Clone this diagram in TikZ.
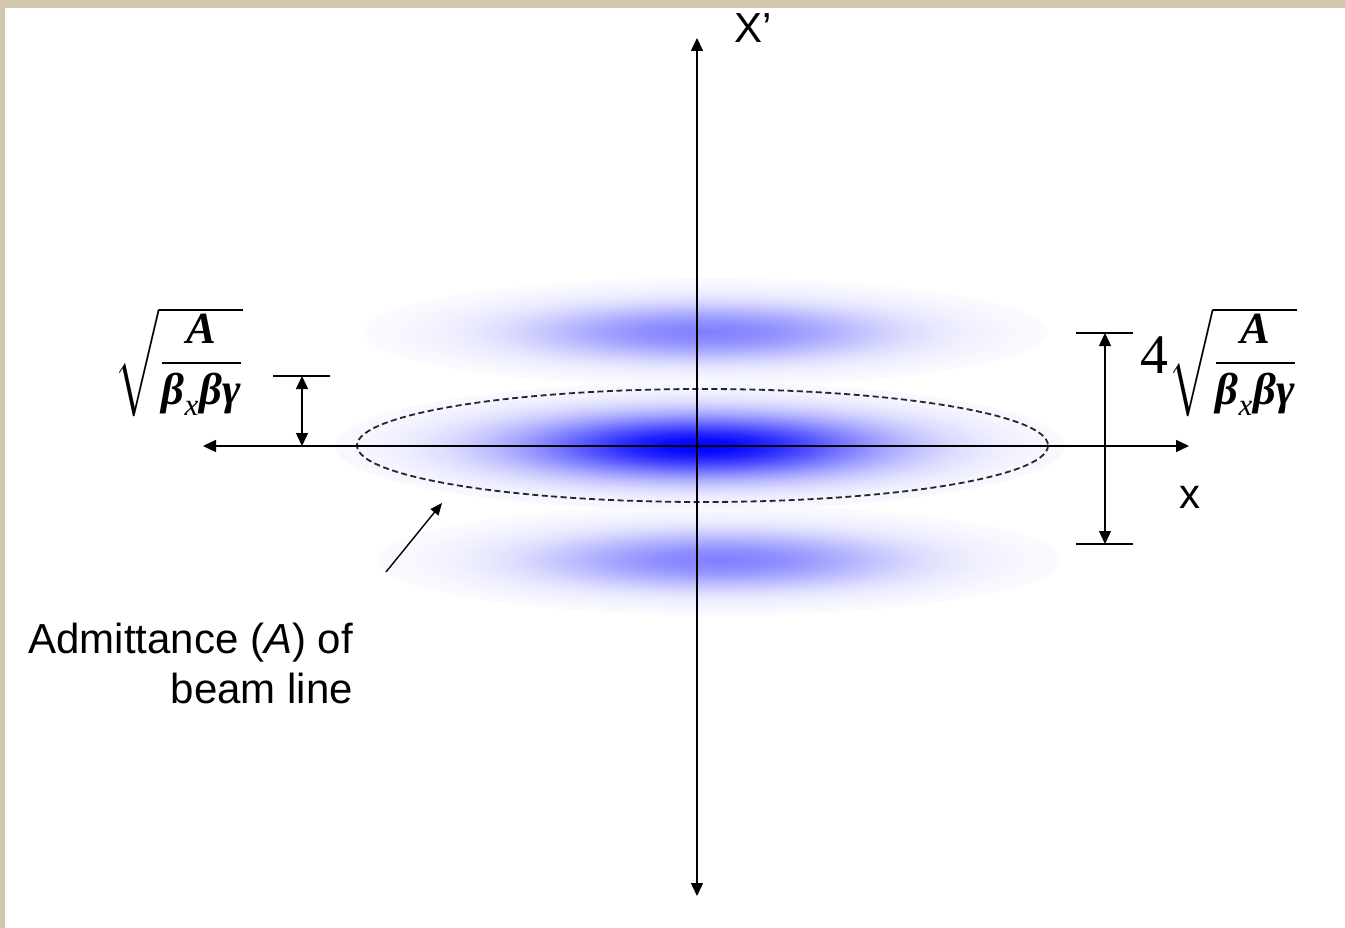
\documentclass[tikz,border=0pt]{standalone}
\usepackage{amsmath}
\usepackage{fontspec}
\setmainfont{Liberation Sans}
\newfontfamily\tnr{Liberation Serif}
\usetikzlibrary{arrows.meta}
\definecolor{framebeige}{RGB}{210,199,170}
\newcommand{\bfit}[1]{\text{\tnr\bfseries\itshape #1}}
\newcommand{\admfrac}{\sqrt{\dfrac{\bfit{A}}{\bfit{β}_{\text{\tnr\itshape x}}\bfit{βγ}}}}
\pgfdeclareradialshading{blobmain}{\pgfpoint{0bp}{0bp}}{color(0bp)=(blue); color(2.5bp)=(blue!96); color(5bp)=(blue!85); color(7.5bp)=(blue!69); color(10bp)=(blue!52); color(12.5bp)=(blue!36); color(15bp)=(blue!23); color(17.5bp)=(blue!13.5); color(20bp)=(blue!7.5); color(22.5bp)=(blue!4); color(25bp)=(blue!2.5); color(50bp)=(blue!2.5)}
\pgfdeclareradialshading{blobside}{\pgfpoint{0bp}{0bp}}{color(0bp)=(blue!50); color(2.5bp)=(blue!47); color(5bp)=(blue!43); color(7.5bp)=(blue!36); color(10bp)=(blue!28); color(12.5bp)=(blue!20); color(15bp)=(blue!13); color(17.5bp)=(blue!8); color(20bp)=(blue!5); color(22.5bp)=(blue!3); color(25bp)=(blue!2); color(50bp)=(blue!2)}
\tikzset{
  axis/.style={line width=1.6pt, {Triangle[length=13pt,width=12pt]}-{Triangle[length=13pt,width=12pt]}},
  tick/.style={line width=1.4pt},
  dimarrow/.style={line width=1.4pt, {Triangle[length=13pt,width=12pt]}-{Triangle[length=13pt,width=12pt]}},
  pointer/.style={line width=1.4pt, -{Triangle[length=12pt,width=10pt]}},
  admbound/.style={draw=black!85, line width=1.8pt, dash pattern=on 6pt off 3.5pt},
  lbl/.style={inner sep=0pt, font=\fontsize{42}{50}\selectfont},
  formula/.style={inner sep=0pt, scale=2.15, font=\fontsize{20.74}{24}\selectfont}
}
\begin{document}
\begin{tikzpicture}[x=1pt,y=-1pt]
\useasboundingbox (0,0) rectangle (1345,928);
\fill[white] (0,0) rectangle (1345,928);
\fill[framebeige] (0,0) rectangle (1345,8.5);
\fill[framebeige] (0,0) rectangle (5,928);
% beam distributions
\shade[shading=blobside] (706,332) ellipse (342 and 54);
\shade[shading=blobside] (719,560) ellipse (342 and 55);
\shade[shading=blobmain] (700,446) ellipse (365 and 64);
% admittance boundary
\draw[admbound] (702.5,445.5) ellipse (345.5 and 56.5);
% axes
\coordinate (xl) at (203,446);
\coordinate (xr) at (1189,446);
\coordinate (yt) at (697,38);
\coordinate (yb) at (697,896);
\draw[axis] (xl) -- (xr);
\draw[axis] (yb) -- (yt);
\node[lbl, anchor=base west] (xplabel) at (734,43) {X’};
\node[lbl, anchor=base west] (xlabel) at (1179,508) {x};
% left dimension
\coordinate (lt1) at (273,376);
\coordinate (lt2) at (330,376);
\coordinate (la1) at (302,376);
\coordinate (la2) at (302,446);
\draw[tick] (lt1) -- (lt2);
\draw[dimarrow] (la1) -- (la2);
\node[formula] (lform) at (179,362) {$\admfrac$};
% right dimension
\coordinate (rt1) at (1076,333);
\coordinate (rt2) at (1133,333);
\coordinate (rb1) at (1076,544);
\coordinate (rb2) at (1133,544);
\coordinate (ra1) at (1105,333);
\coordinate (ra2) at (1105,544);
\draw[tick] (rt1) -- (rt2);
\draw[tick] (rb1) -- (rb2);
\draw[dimarrow] (ra1) -- (ra2);
\node[formula] (rform) at (1219,362) {$\text{\tnr\fontsize{26}{30}\selectfont 4}\admfrac$};
% pointer and caption
\coordinate (ptail) at (386,572);
\coordinate (ptip) at (442,503);
\draw[pointer] (ptail) -- (ptip);
\node[lbl, anchor=base east] (cap1) at (353,653) {Admittance (\textit{A}) of};
\node[lbl, anchor=base east] (cap2) at (353,703) {beam line};
\end{tikzpicture}
\end{document}
